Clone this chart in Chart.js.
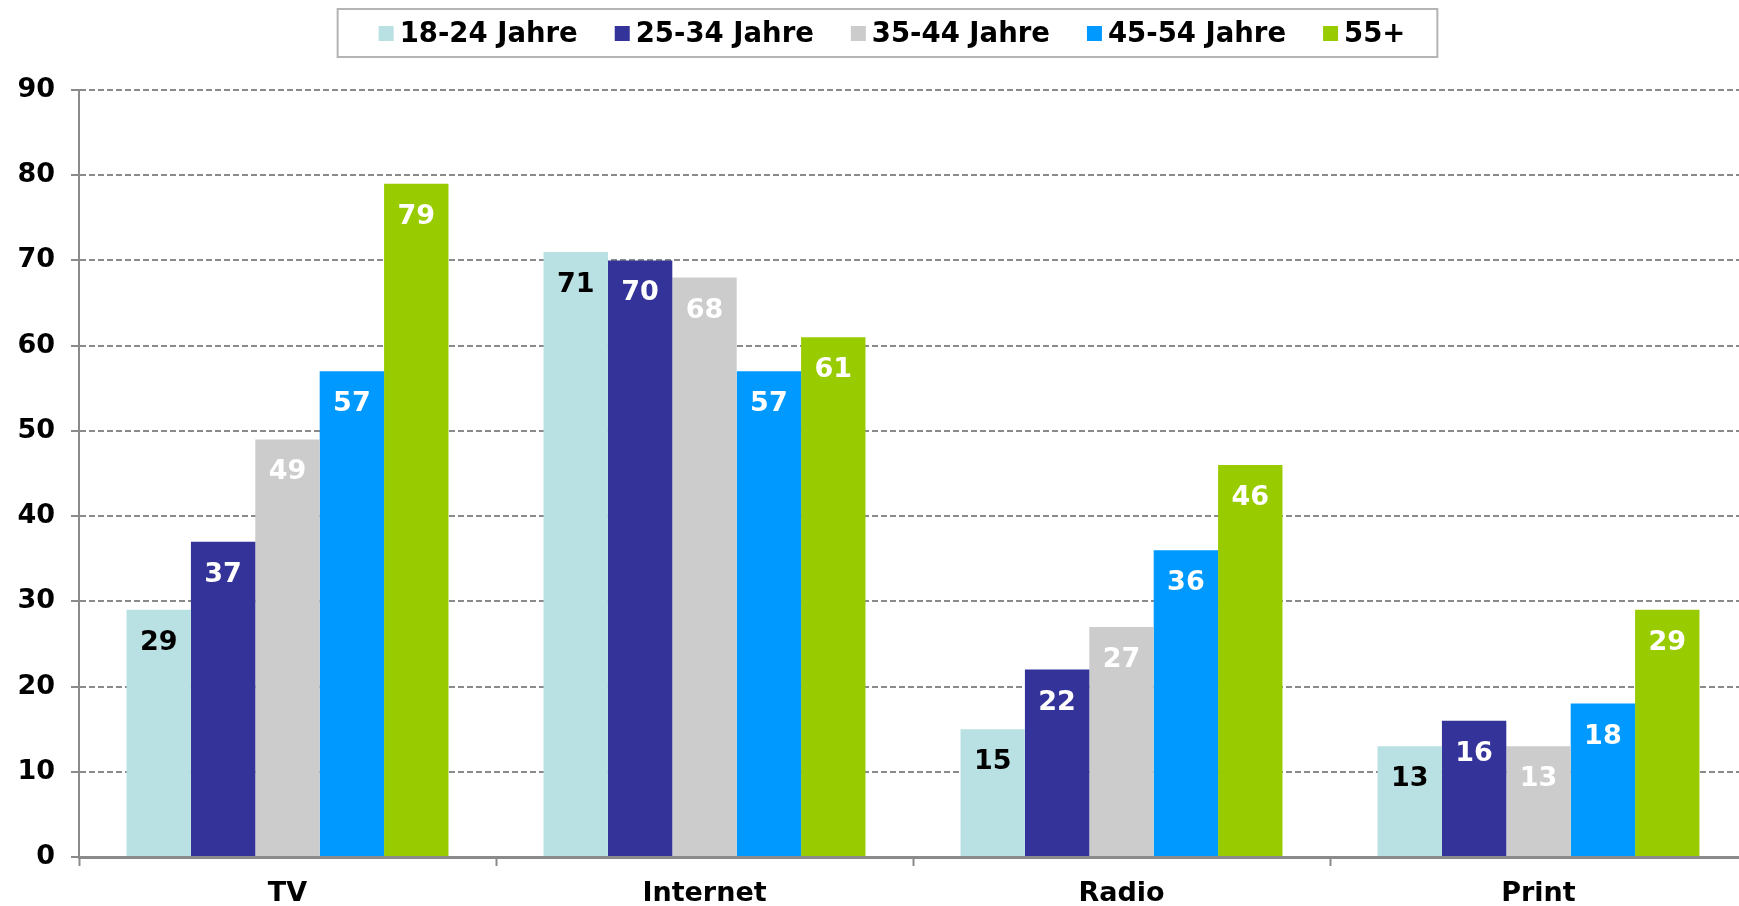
<!DOCTYPE html>
<html>
<head>
<meta charset="utf-8">
<script src="https://cdn.jsdelivr.net/npm/chart.js@4/dist/chart.umd.min.js"></script>
<style>
  html, body { margin: 0; padding: 0; background: #fff; overflow: hidden; }
  #wrap { width: 1739px; height: 906px; overflow: hidden; }
</style>
</head>
<body>
<div id="wrap"><canvas id="mediaChart" width="1747" height="906"></canvas></div>
<script>
const categories = ['TV', 'Internet', 'Radio', 'Print'];
const seriesNames = ['18-24 Jahre', '25-34 Jahre', '35-44 Jahre', '45-54 Jahre', '55+'];
const age18to24 = [29, 71, 15, 13];
const age25to34 = [37, 70, 22, 16];
const age35to44 = [49, 68, 27, 13];
const age45to54 = [57, 57, 36, 18];
const age55plus = [79, 61, 46, 29];
const yTicks = [0, 10, 20, 30, 40, 50, 60, 70, 80, 90];

const barColors = ['#b9e0e3', '#333399', '#cccccc', '#0099ff', '#99cc00'];
const labelColors = ['#000000', '#ffffff', '#ffffff', '#ffffff', '#ffffff'];
const FONT = "'DejaVu Sans', Verdana, sans-serif";
const AXIS_GRAY = '#8a8a8a';

const seriesValues = [age18to24, age25to34, age35to44, age45to54, age55plus];

// value labels inside the top of each bar
const barLabels = {
  id: 'barLabels',
  afterDatasetsDraw(chart) {
    const ctx = chart.ctx;
    ctx.save();
    ctx.font = 'bold 27px ' + FONT;
    ctx.textAlign = 'center';
    ctx.textBaseline = 'middle';
    chart.data.datasets.forEach((ds, i) => {
      const meta = chart.getDatasetMeta(i);
      ctx.fillStyle = labelColors[i];
      meta.data.forEach((bar, j) => {
        ctx.fillText(String(ds.data[j]), bar.x, bar.y + 33);
      });
    });
    ctx.restore();
  },
};

// boxed legend row at the top
const boxedLegend = {
  id: 'boxedLegend',
  afterDraw(chart) {
    const ctx = chart.ctx;
    ctx.save();
    ctx.font = 'bold 27.5px ' + FONT;
    const box = 15, gapText = 6, gapItem = 37;
    const widths = chart.data.datasets.map(ds => box + gapText + ctx.measureText(ds.label).width);
    const total = widths.reduce((a, b) => a + b, 0) + gapItem * (widths.length - 1);
    let x = 892 - total / 2;
    const left = x - 41, right = x + total + 32;
    ctx.strokeStyle = '#b4b4b4';
    ctx.lineWidth = 2;
    ctx.strokeRect(left, 9, right - left, 48);
    ctx.textBaseline = 'alphabetic';
    ctx.textAlign = 'left';
    chart.data.datasets.forEach((ds, i) => {
      ctx.fillStyle = ds.backgroundColor;
      ctx.fillRect(x, 26, box, box);
      ctx.fillStyle = '#000';
      ctx.fillText(ds.label, x + box + gapText, 42);
      x += widths[i] + gapItem;
    });
    ctx.restore();
  },
};

new Chart(document.getElementById('mediaChart').getContext('2d'), {
  type: 'bar',
  data: {
    labels: categories,
    datasets: seriesNames.map((name, i) => ({
      label: name,
      data: seriesValues[i],
      backgroundColor: barColors[i],
      borderWidth: 0,
      barPercentage: 1.0,
      categoryPercentage: 0.772,
    })),
  },
  options: {
    responsive: false,
    animation: false,
    layout: { padding: { top: 90, left: 0, right: 0, bottom: 0 } },
    plugins: {
      legend: { display: false },
      tooltip: { enabled: false },
    },
    scales: {
      x: {
        afterFit: scale => { scale.height = 49; },
        grid: {
          offset: true,
          drawOnChartArea: false,
          drawTicks: true,
          tickLength: 9,
          tickColor: AXIS_GRAY,
          tickWidth: 2,
        },
        border: { color: AXIS_GRAY, width: 3 },
        ticks: {
          color: '#000',
          padding: 12,
          font: { family: FONT, size: 27, weight: 'bold' },
        },
      },
      y: {
        min: yTicks[0],
        max: yTicks[yTicks.length - 1],
        afterFit: scale => { scale.width = 79; },
        afterBuildTicks: scale => { scale.ticks = yTicks.map(v => ({ value: v })); },
        grid: {
          color: AXIS_GRAY,
          lineWidth: 2,
          drawTicks: true,
          tickLength: 8,
          tickColor: AXIS_GRAY,
          tickWidth: 2,
          tickBorderDash: [],
        },
        border: { color: AXIS_GRAY, width: 2, dash: [6, 3] },
        ticks: {
          color: '#000',
          padding: 16,
          font: { family: FONT, size: 27, weight: 'bold' },
        },
      },
    },
  },
  plugins: [barLabels, boxedLegend],
});
</script>
</body>
</html>
